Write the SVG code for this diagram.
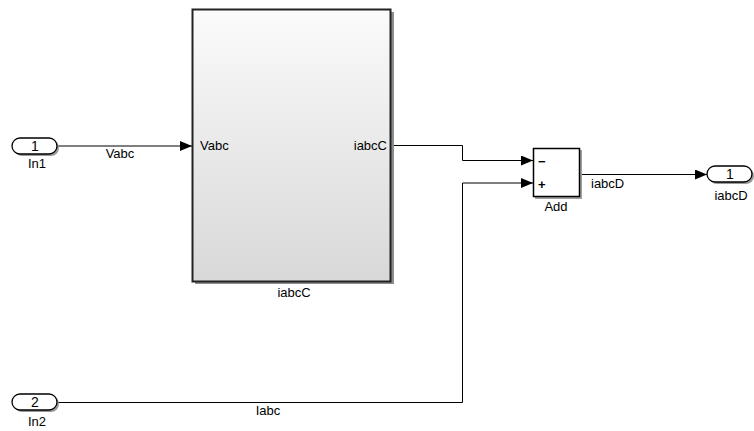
<svg xmlns="http://www.w3.org/2000/svg" width="754" height="431" viewBox="0 0 754 431">
<defs>
<linearGradient id="sub" x1="0" y1="0" x2="0" y2="1">
<stop offset="0" stop-color="#fbfbfb"/>
<stop offset="1" stop-color="#d8d8d8"/>
</linearGradient>
<marker id="arr" markerWidth="12" markerHeight="10" refX="12" refY="5" orient="auto" markerUnits="userSpaceOnUse">
<path d="M0,0 L12,5 L0,10 Z" fill="#000"/>
</marker>
</defs>
<style>
text{font-family:"Liberation Sans",Arial,sans-serif;font-size:13px;fill:#000}
.c{text-anchor:middle}
.r{text-anchor:end}
.num{font-size:14px}
.port{fill:#fff;stroke:#000;stroke-width:1.3}
.shadow{fill:#9a9a9a;stroke:none}
.wire{fill:none;stroke:#000;stroke-width:1}
.blk{fill:#fff;stroke:#000;stroke-width:1.5}
</style>
<rect width="754" height="431" fill="#fff"/>
<g id="connectors">
<path class="wire" d="M57,146 H192" marker-end="url(#arr)"/>
<path class="wire" d="M391,145.5 H462.5 V160.5 H533" marker-end="url(#arr)"/>
<path class="wire" d="M57,402.5 H462.5 V183 H533" marker-end="url(#arr)"/>
<path class="wire" d="M580,174.5 H707" marker-end="url(#arr)"/>
<text class="c" x="120" y="158">Vabc</text>
<text class="c" x="268" y="415">Iabc</text>
<text x="591" y="188">iabcD</text>
</g>
<g id="In1">
<rect class="shadow" x="14" y="140" width="45" height="16" rx="8"/>
<rect class="port" x="12" y="138" width="45" height="16" rx="8"/>
<text class="c num" x="35" y="151">1</text>
<text class="c" x="37" y="168">In1</text>
</g>
<g id="In2">
<rect class="shadow" x="14" y="396" width="45" height="16" rx="8"/>
<rect class="port" x="12" y="394" width="45" height="16" rx="8"/>
<text class="c num" x="35" y="407">2</text>
<text class="c" x="37" y="426">In2</text>
</g>
<g id="iabcC">
<rect x="195" y="12" width="199" height="272" fill="#8c8c8c"/>
<rect x="192.5" y="9.5" width="198" height="272" fill="url(#sub)" stroke="#222" stroke-width="2"/>
<text x="200" y="150">Vabc</text>
<text class="r" x="387" y="150">iabcC</text>
<text class="c" x="294" y="297">iabcC</text>
</g>
<g id="Add">
<rect x="535" y="150" width="47" height="49" fill="#a0a0a0"/>
<rect class="blk" x="533.5" y="148.5" width="46" height="48"/>
<text x="538" y="166" font-weight="bold">−</text>
<text x="538" y="189" font-weight="bold">+</text>
<text class="c" x="556" y="211">Add</text>
</g>
<g id="iabcD">
<rect class="shadow" x="709" y="168" width="45" height="16" rx="8"/>
<rect class="port" x="707" y="166" width="45" height="16" rx="8"/>
<text class="c num" x="730" y="179">1</text>
<text class="c" x="731" y="200">iabcD</text>
</g>
</svg>
